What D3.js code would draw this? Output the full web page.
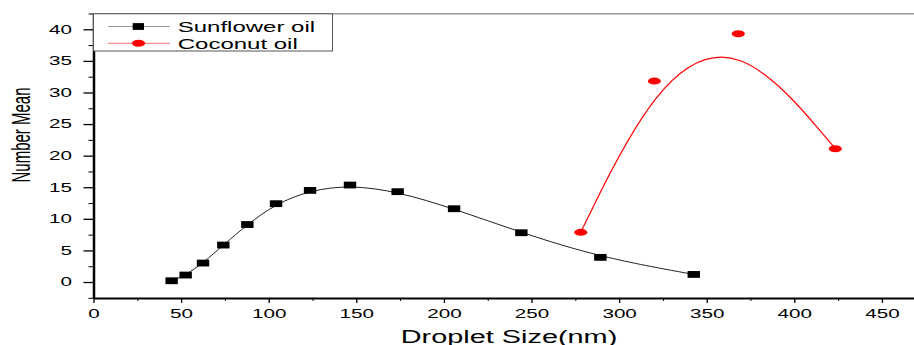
<!DOCTYPE html>
<html>
<head>
<meta charset="utf-8">
<script src="https://cdn.jsdelivr.net/npm/d3@7"></script>
<style>
  body { margin: 0; background: #fff; }
  text { font-family: "Liberation Sans", Arial, sans-serif; }
</style>
</head>
<body>
<div id="chart-area"></div>
<script>
// Data
let sunflowerSize = [44.6, 52.6, 62.5, 74.1, 87.8, 104.2, 123.6, 146.4, 173.6, 205.8, 244.2, 289.3, 342.6];
let sunflowerMean = [0.2, 1.1, 3.0, 5.85, 9.1, 12.4, 14.5, 15.35, 14.3, 11.6, 7.8, 3.9, 1.2];
let coconutSize = [278.1, 320.1, 368.0, 423.4];
let coconutMean = [7.86, 31.8, 39.3, 21.1];
let xTicks = [0, 50, 100, 150, 200, 250, 300, 350, 400, 450];
let yTicks = [0, 5, 10, 15, 20, 25, 30, 35, 40];

let W = 914, H = 345;
let sx = 1.72; // the original figure is stretched horizontally

let svg = d3.select("#chart-area")
    .append("svg")
    .attr("width", W)
    .attr("height", H);

// Scales
let x = d3.scaleLinear().domain([0, 468.3]).range([93.5, W]);
let y = d3.scaleLinear().domain([-2.53, 42.5]).range([298, 13.5]);

// Top frame line
svg.append("line")
    .attr("x1", 93.5).attr("x2", W)
    .attr("y1", 13.8).attr("y2", 13.8)
    .attr("stroke", "#999")
    .attr("stroke-width", 1.5);

// X Axis minor ticks
svg.append("g")
    .attr("transform", "translate(0,298)")
    .call(d3.axisBottom(x).tickValues(xTicks.map(function (d) { return d + 25; }))
        .tickSize(3).tickFormat(""))
    .call(function (g) { g.select(".domain").remove(); });

// X Axis
let xAxis = svg.append("g")
    .attr("class", "x axis")
    .attr("transform", "translate(0,298)")
    .call(d3.axisBottom(x).tickValues(xTicks).tickSize(5).tickSizeOuter(0));
xAxis.select(".domain").attr("stroke-width", 2);
xAxis.selectAll(".tick line").attr("stroke-width", 1.3);
xAxis.selectAll(".tick text")
    .attr("y", null).attr("dy", null)
    .attr("transform", "translate(0,19.7) scale(" + sx + ",1)")
    .attr("font-size", "12px")
    .attr("fill", "#000");

// Y Axis minor ticks
let yMinor = yTicks.map(function (d) { return d - 2.5; }).concat([42.5]);
svg.append("g")
    .attr("transform", "translate(93.5,0)")
    .call(d3.axisLeft(y).tickValues(yMinor).tickSize(5).tickFormat(""))
    .call(function (g) { g.select(".domain").remove(); });

// Y Axis
let yAxis = svg.append("g")
    .attr("class", "y axis")
    .attr("transform", "translate(93.5,0)")
    .call(d3.axisLeft(y).tickValues(yTicks).tickSize(10).tickSizeOuter(0));
yAxis.select(".domain").attr("stroke-width", 2.5);
yAxis.selectAll(".tick line").attr("stroke-width", 1.3);
yAxis.selectAll(".tick text")
    .attr("x", null)
    .attr("transform", "translate(-21.5,0) scale(" + sx + ",1)")
    .attr("font-size", "12px")
    .attr("fill", "#000");

// X Label
svg.append("text")
    .attr("text-anchor", "middle")
    .attr("font-size", "17.5px")
    .attr("transform", "translate(509,342.5) scale(1.65,1)")
    .text("Droplet Size(nm)");

// Y Label
svg.append("text")
    .attr("text-anchor", "middle")
    .attr("font-size", "15px")
    .attr("transform", "translate(30,135) scale(1.7,1) rotate(-90)")
    .text("Number Mean");

// B-spline lines
let line = d3.line()
    .x(function (d) { return x(d[0]); })
    .y(function (d) { return y(d[1]); })
    .curve(d3.curveBasis);

let sunflower = sunflowerSize.map(function (d, i) { return [d, sunflowerMean[i]]; });
let coconut = coconutSize.map(function (d, i) { return [d, coconutMean[i]]; });

svg.append("path")
    .datum(sunflower)
    .attr("d", line)
    .attr("fill", "none")
    .attr("stroke", "#222")
    .attr("stroke-width", 1);

svg.append("path")
    .datum(coconut)
    .attr("d", line)
    .attr("fill", "none")
    .attr("stroke", "#ff0000")
    .attr("stroke-width", 1.2);

// Markers
svg.selectAll("rect.sun")
    .data(sunflower)
    .enter()
    .append("rect")
    .attr("class", "sun")
    .attr("x", function (d) { return x(d[0]) - 6.2; })
    .attr("y", function (d) { return y(d[1]) - 3.4; })
    .attr("width", 12.4)
    .attr("height", 6.8)
    .attr("fill", "#000");

svg.selectAll("ellipse.coco")
    .data(coconut)
    .enter()
    .append("ellipse")
    .attr("class", "coco")
    .attr("cx", function (d) { return x(d[0]); })
    .attr("cy", function (d) { return y(d[1]); })
    .attr("rx", 6.6)
    .attr("ry", 3.5)
    .attr("fill", "#ff0000");

// Legend
let legend = svg.append("g");
legend.append("rect")
    .attr("x", 93.5).attr("y", 13.8)
    .attr("width", 239).attr("height", 37.2)
    .attr("fill", "#fff")
    .attr("stroke", "#555")
    .attr("stroke-width", 1);

let entries = [
    {name: "Sunflower oil", line: "#999", mark: "#000", y: 26.5},
    {name: "Coconut oil", line: "#ff9090", mark: "#ff0000", y: 43.3}
];
entries.forEach(function (e, i) {
    legend.append("line")
        .attr("x1", 108).attr("x2", 170)
        .attr("y1", e.y).attr("y2", e.y)
        .attr("stroke", e.line)
        .attr("stroke-width", 1.2);
    if (i === 0) {
        legend.append("rect")
            .attr("x", 132.7).attr("y", e.y - 3.4)
            .attr("width", 11.3).attr("height", 6.8)
            .attr("fill", e.mark);
    } else {
        legend.append("ellipse")
            .attr("cx", 138.5).attr("cy", e.y)
            .attr("rx", 6.6).attr("ry", 3.5)
            .attr("fill", e.mark);
    }
    legend.append("text")
        .attr("font-size", "15.4px")
        .attr("transform", "translate(177.7," + (e.y + 5.3) + ") scale(1.56,1)")
        .text(e.name);
});
</script>
</body>
</html>
